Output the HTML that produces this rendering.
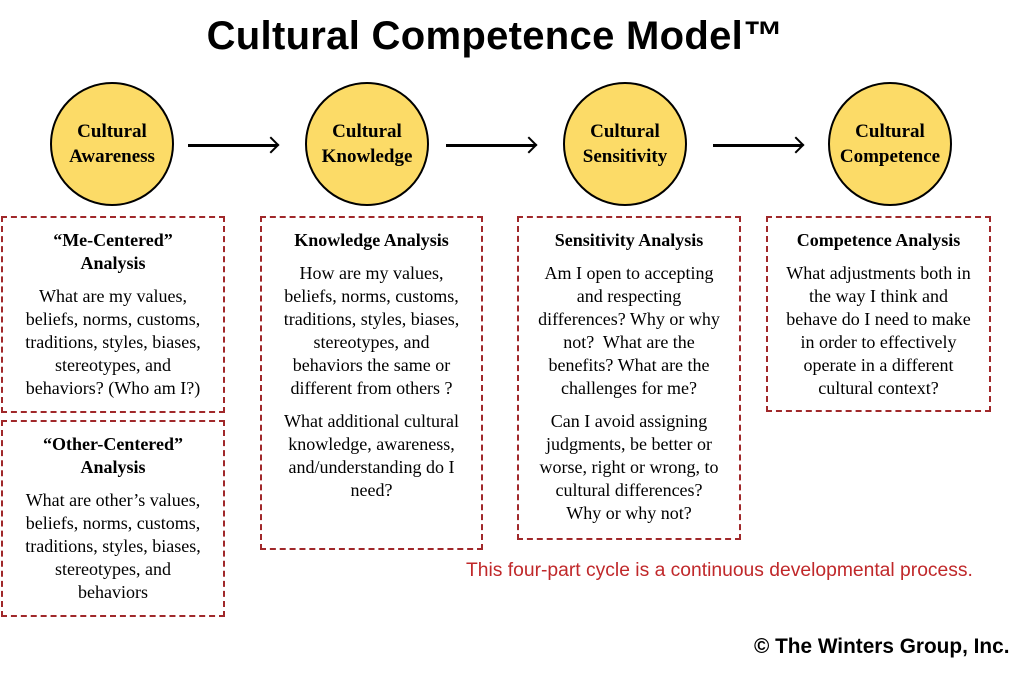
<!DOCTYPE html>
<html><head><style>
body{margin:0;width:1024px;height:673px;background:#fff;position:relative;overflow:hidden;font-family:"Liberation Serif",serif;}
.t{position:absolute;left:0;width:990px;text-align:center;top:14px;font:bold 40px "Liberation Sans",sans-serif;letter-spacing:0.3px;}
.c{position:absolute;width:124px;height:124px;border:2.5px solid #000;border-radius:50%;background:#fcdb67;box-sizing:border-box;display:flex;align-items:center;justify-content:center;text-align:center;font-weight:bold;font-size:19px;line-height:25px;}
.b{position:absolute;border:2px dashed #a0282a;box-sizing:border-box;text-align:center;font-size:18px;line-height:23px;padding:11px 0 0;white-space:nowrap;}
.b h{display:block;font-weight:bold;margin-bottom:10px;}
.b p{margin:0 0 10px;}
.ar{position:absolute;height:2.5px;background:#000;top:144px;}
.ar:after{content:"";position:absolute;right:0;top:-5px;width:10px;height:10px;border-top:2.5px solid #000;border-right:2.5px solid #000;transform:rotate(45deg);}
</style></head><body>
<div class="t">Cultural Competence Model™</div>
<div class="c" style="left:50px;top:82px">Cultural<br>Awareness</div>
<div class="c" style="left:305px;top:82px">Cultural<br>Knowledge</div>
<div class="c" style="left:563px;top:82px">Cultural<br>Sensitivity</div>
<div class="c" style="left:828px;top:82px">Cultural<br>Competence</div>
<div class="ar" style="left:188px;width:89px"></div>
<div class="ar" style="left:446px;width:89px"></div>
<div class="ar" style="left:713px;width:89px"></div>
<div class="b" style="left:1px;top:216px;width:224px;height:197px"><h>“Me-Centered”<br>Analysis</h><p>What are my values,<br>beliefs, norms, customs,<br>traditions, styles, biases,<br>stereotypes, and<br>behaviors? (Who am I?)</p></div>
<div class="b" style="left:1px;top:420px;width:224px;height:197px"><h>“Other-Centered”<br>Analysis</h><p>What are other’s values,<br>beliefs, norms, customs,<br>traditions, styles, biases,<br>stereotypes, and<br>behaviors</p></div>
<div class="b" style="left:260px;top:216px;width:223px;height:334px"><h>Knowledge Analysis</h><p>How are my values,<br>beliefs, norms, customs,<br>traditions, styles, biases,<br>stereotypes, and<br>behaviors the same or<br>different from others ?</p><p>What additional cultural<br>knowledge, awareness,<br>and/understanding do I<br>need?</p></div>
<div class="b" style="left:517px;top:216px;width:224px;height:324px"><h>Sensitivity Analysis</h><p>Am I open to accepting<br>and respecting<br>differences? Why or why<br>not?&nbsp; What are the<br>benefits? What are the<br>challenges for me?</p><p>Can I avoid assigning<br>judgments, be better or<br>worse, right or wrong, to<br>cultural differences?<br>Why or why not?</p></div>
<div class="b" style="left:766px;top:216px;width:225px;height:196px"><h>Competence Analysis</h><p>What adjustments both in<br>the way I think and<br>behave do I need to make<br>in order to effectively<br>operate in a different<br>cultural context?</p></div>
<div style="position:absolute;left:466px;top:560px;color:#c0282a;font:19.3px 'Liberation Sans',sans-serif">This four-part cycle is a continuous developmental process.</div>
<div style="position:absolute;left:754px;top:635px;font:bold 20.8px 'Liberation Sans',sans-serif">© The Winters Group, Inc.</div>
</body></html>
